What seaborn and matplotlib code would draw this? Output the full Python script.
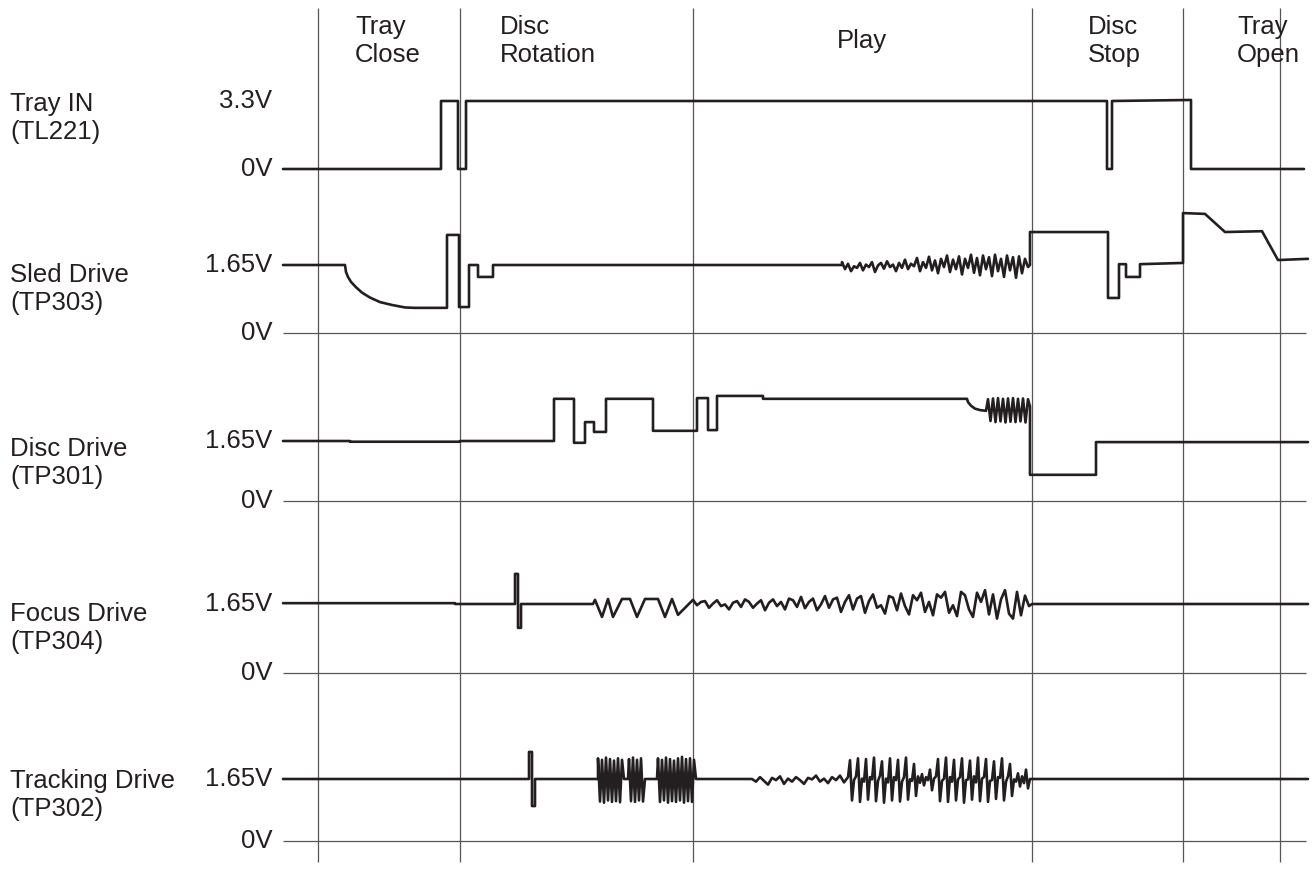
import matplotlib
matplotlib.use("Agg")
import matplotlib.pyplot as plt
import seaborn as sns
import pandas as pd

# ---------------- data (time in sweep units, values in volts) ----------------
phase_edges = [318, 460, 693, 1032, 1183, 1280]
phase_labels = ["Tray\nClose", "Disc\nRotation", "Play", "Disc\nStop", "Tray\nOpen"]

channel_names = ["Tray IN\n(TL221)", "Sled Drive\n(TP303)", "Disc Drive\n(TP301)",
                 "Focus Drive\n(TP304)", "Tracking Drive\n(TP302)"]
channel_ref_labels = ["3.3V", "1.65V", "1.65V", "1.65V", "1.65V"]
channel_ref_volts = [3.3, 1.65, 1.65, 1.65, 1.65]

# Tray IN
tray_t = [283, 441, 441, 458, 458, 466, 466, 1107, 1107, 1112, 1112, 1191, 1191, 1304]
tray_v = [0, 0, 3.3, 3.3, 0, 0, 3.3, 3.3, 0, 0, 3.3, 3.35, 0, 0]

# Sled Drive
sled_t_a = [283, 345, 346, 348, 351, 356, 362, 370, 380, 392, 405, 415, 447, 447, 459, 459,
            469, 469, 478, 478, 493, 493, 842]
sled_v_a = [1.65, 1.65, 1.48, 1.36, 1.24, 1.11, 0.98, 0.86, 0.75, 0.68, 0.62, 0.61, 0.61, 2.38, 2.38, 0.63,
            0.63, 1.65, 1.65, 1.36, 1.36, 1.65, 1.65]
sled_noise_t = [842, 845, 848, 851, 854, 857, 860, 863, 866, 869,
                872, 875, 878, 881, 884, 887, 890, 893, 896, 899,
                902, 905, 908, 911, 914, 917, 920, 923, 926, 929,
                932, 935, 938, 941, 944, 947, 950, 953, 956, 959,
                962, 965, 968, 971, 974, 977, 980, 983, 986, 989,
                992, 995, 998, 1001, 1004, 1007, 1010, 1013, 1016, 1019,
                1022, 1025, 1028]
sled_noise_v = [1.72, 1.55, 1.68, 1.50, 1.62, 1.58, 1.70, 1.52, 1.66, 1.60,
                1.72, 1.48, 1.64, 1.70, 1.56, 1.74, 1.60, 1.66, 1.50, 1.70,
                1.58, 1.78, 1.55, 1.68, 1.62, 1.82, 1.50, 1.72, 1.58, 1.85,
                1.52, 1.76, 1.45, 1.80, 1.60, 1.88, 1.48, 1.78, 1.55, 1.86,
                1.42, 1.80, 1.58, 1.90, 1.46, 1.82, 1.40, 1.88, 1.55, 1.84,
                1.38, 1.90, 1.50, 1.80, 1.36, 1.88, 1.52, 1.84, 1.34, 1.86,
                1.45, 1.80, 1.60]
sled_t_b = [1030, 1030, 1108, 1108, 1119, 1119, 1126, 1126, 1140, 1140, 1183, 1183,
            1205, 1225, 1262, 1278, 1308]
sled_v_b = [1.65, 2.45, 2.45, 0.85, 0.85, 1.67, 1.67, 1.36, 1.36, 1.67, 1.70, 2.91,
            2.89, 2.45, 2.47, 1.77, 1.80]

# Disc Drive
disc_t_a = [283, 350, 350, 460, 460, 554, 554, 574, 574, 585, 585, 594, 594, 606, 606,
            653, 653, 697, 697, 708, 708, 717, 717, 763, 763, 967, 968, 971, 975, 980, 986]
disc_v_a = [1.65, 1.65, 1.63, 1.63, 1.65, 1.65, 2.81, 2.81, 1.60, 1.60, 2.17, 2.17, 1.90, 1.90, 2.81,
            2.81, 1.93, 1.93, 2.83, 2.83, 1.95, 1.95, 2.89, 2.89, 2.81, 2.81, 2.72, 2.62, 2.54, 2.50, 2.48]
disc_spring_t = [988, 990.5, 993, 995.5, 998, 1000.5, 1003, 1005.5, 1008, 1010.5,
                 1013, 1015.5, 1018, 1020.5, 1023, 1025.5, 1028, 1030]
disc_spring_v = [2.80, 2.20, 2.82, 2.17, 2.83, 2.19, 2.81, 2.16, 2.82, 2.18,
                 2.83, 2.17, 2.81, 2.19, 2.82, 2.16, 2.80, 2.60]
disc_t_b = [1030, 1096, 1096, 1308]
disc_v_b = [0.72, 0.72, 1.62, 1.62]

# Focus Drive
focus_t_a = [283, 455, 455, 515, 515, 518, 518, 521, 521, 593, 595, 602, 608, 613, 622,
             630, 637, 645, 658, 665, 672, 678]
focus_v_a = [1.67, 1.67, 1.65, 1.65, 2.37, 2.37, 1.08, 1.08, 1.65, 1.65, 1.75, 1.34, 1.77, 1.34, 1.77,
             1.77, 1.34, 1.77, 1.77, 1.34, 1.77, 1.39]
focus_noise_t = [693, 697, 701, 705, 709, 713, 717, 721, 725, 729,
                 733, 737, 741, 745, 749, 753, 757, 761, 765, 769,
                 773, 777, 781, 785, 789, 793, 797, 801, 805, 809,
                 813, 817, 821, 825, 829, 833, 837, 841, 845, 849,
                 853, 857, 861, 865, 869, 873, 877, 881, 885, 889,
                 893, 897, 901, 905, 909, 913, 917, 921, 925, 929,
                 933, 937, 941, 945, 949, 953, 957, 961, 965, 969,
                 973, 977, 981, 985, 989, 993, 997, 1001, 1005, 1009,
                 1013, 1017, 1021, 1025, 1029]
focus_noise_v = [1.75, 1.62, 1.70, 1.72, 1.56, 1.66, 1.74, 1.60, 1.64, 1.52,
                 1.68, 1.72, 1.58, 1.76, 1.70, 1.56, 1.66, 1.74, 1.50, 1.68,
                 1.76, 1.60, 1.70, 1.52, 1.78, 1.74, 1.58, 1.82, 1.55, 1.70,
                 1.78, 1.50, 1.64, 1.84, 1.56, 1.76, 1.80, 1.46, 1.70, 1.86,
                 1.52, 1.78, 1.84, 1.44, 1.72, 1.88, 1.56, 1.62, 1.42, 1.84,
                 1.80, 1.50, 1.90, 1.60, 1.40, 1.86, 1.74, 1.92, 1.46, 1.70,
                 1.38, 1.88, 1.80, 1.94, 1.44, 1.62, 1.36, 1.94, 1.86, 1.52,
                 1.34, 1.92, 1.70, 1.98, 1.40, 1.88, 1.30, 1.76, 1.98, 1.42,
                 1.30, 1.94, 1.38, 1.85, 1.60]
focus_t_b = [1032, 1308]
focus_v_b = [1.65, 1.65]

# Tracking Drive
track_t_a = [283, 529, 529, 532, 532, 535, 535, 598]
track_v_a = [1.65, 1.65, 2.37, 2.37, 0.93, 0.93, 1.65, 1.65]
track_burst1_t = [598, 600, 602, 604, 606, 608, 610, 612, 614, 616, 618, 620, 622, 624]
track_burst1_v = [2.20, 1.05, 2.16, 1.02, 2.22, 1.08, 2.18, 1.04, 2.14, 1.06, 2.20, 1.03, 2.16, 1.65]
track_burst2_t = [628, 629, 631, 633, 635, 637, 639, 641, 643, 645]
track_burst2_v = [1.65, 2.18, 1.06, 2.22, 1.04, 2.16, 1.08, 2.20, 1.05, 1.65]
track_burst3_t = [657, 658, 660, 662, 664, 666, 668, 670, 672, 674, 676, 678, 680, 682, 684,
                  686, 688, 690, 692, 694, 696]
track_burst3_v = [1.65, 2.20, 1.04, 2.16, 1.08, 2.22, 1.02, 2.18, 1.06, 2.14, 1.04, 2.20, 1.08, 2.24, 1.02,
                  2.18, 1.06, 2.20, 1.04, 2.16, 1.65]
track_small_t = [752, 756, 760, 764, 768, 772, 776, 780, 784, 788,
                 792, 796, 800, 804, 808, 812, 816, 820, 824, 828,
                 832, 836, 840, 844]
track_small_v = [1.65, 1.58, 1.70, 1.60, 1.50, 1.68, 1.62, 1.72, 1.52, 1.66,
                 1.58, 1.70, 1.62, 1.52, 1.68, 1.64, 1.74, 1.58, 1.66, 1.54,
                 1.70, 1.62, 1.74, 1.56]
track_spike_t = [848, 850, 852, 854, 856, 858, 860, 862, 864, 866,
                 868, 870, 872, 874, 876, 878, 880, 882, 884, 886,
                 888, 890, 892, 894, 896, 898, 900, 902, 904, 906,
                 908, 910, 912, 914, 916, 918, 920, 922, 924, 926,
                 928, 930, 932, 934, 936, 938, 940, 942, 944, 946,
                 948, 950, 952, 954, 956, 958, 960, 962, 964, 966,
                 968, 970, 972, 974, 976, 978, 980, 982, 984, 986,
                 988, 990, 992, 994, 996, 998, 1000, 1002, 1004, 1006,
                 1008, 1010, 1012, 1014, 1016, 1018, 1020, 1022, 1024, 1026,
                 1028, 1030]
track_spike_v = [1.70, 2.15, 1.08, 1.62, 1.72, 2.20, 1.04, 1.66,
                 1.58, 2.18, 1.10, 1.70, 1.64, 2.22, 1.06, 1.60,
                 1.74, 2.12, 1.02, 1.66, 1.56, 2.20, 1.08, 1.70,
                 1.62, 2.16, 1.05, 1.58, 1.70, 2.22, 1.10, 1.64,
                 1.60, 2.05, 1.20, 1.72, 1.55, 1.78, 1.48, 1.70,
                 1.62, 1.90, 1.35, 1.66, 1.72, 2.18, 1.06, 1.60,
                 1.66, 2.22, 1.04, 1.70, 1.58, 2.16, 1.08, 1.64,
                 1.70, 2.20, 1.02, 1.62, 1.64, 2.14, 1.10, 1.72,
                 1.56, 2.22, 1.06, 1.66, 1.70, 2.18, 1.04, 1.60,
                 1.62, 2.12, 1.12, 1.70, 1.68, 2.20, 1.08, 1.58,
                 1.72, 2.05, 1.20, 1.64, 1.58, 1.80, 1.45, 1.72,
                 1.54, 1.90, 1.40, 1.65]
track_t_b = [1036, 1308]
track_v_b = [1.65, 1.65]

# ---------------- assemble signals ----------------
signals_t = [
    tray_t,
    sled_t_a + sled_noise_t + sled_t_b,
    disc_t_a + disc_spring_t + disc_t_b,
    focus_t_a + focus_noise_t + focus_t_b,
    track_t_a + track_burst1_t + track_burst2_t + track_burst3_t
    + track_small_t + track_spike_t + track_t_b,
]
signals_v = [
    tray_v,
    sled_v_a + sled_noise_v + sled_v_b,
    disc_v_a + disc_spring_v + disc_v_b,
    focus_v_a + focus_noise_v + focus_v_b,
    track_v_a + track_burst1_v + track_burst2_v + track_burst3_v
    + track_small_v + track_spike_v + track_v_b,
]

# ---------------- layout ----------------
W, H = 1312, 869
zero_px = [169, 333, 501, 673, 841]      # pixel row of 0 V for each channel
ref_px = [101, 265, 441, 604, 779]       # pixel row of reference voltage
label_center_px = [118, 289, 463, 628, 795]
phase_label_x = [355, 500, 862, 1088, 1237]
phase_label_ha = ["left", "left", "center", "left", "left"]

INK = "#231f20"
GRID = "#555555"
FS = 18.5

sns.set_theme(style="white")
plt.rcParams["font.family"] = ["Liberation Sans", "DejaVu Sans"]

fig = plt.figure(figsize=(W / 100, H / 100), dpi=100)
fig.patch.set_facecolor("white")

bg = fig.add_axes([0, 0, 1, 1])
bg.set_xlim(0, W)
bg.set_ylim(H, 0)
bg.axis("off")
bg.vlines(phase_edges, 8, 862, color=GRID, lw=0.9)
for lab, x, ha in zip(phase_labels, phase_label_x, phase_label_ha):
    bg.text(x, 41, lab, ha=ha, va="center", fontsize=FS, color=INK, linespacing=1.2)
for lab, y in zip(channel_names, label_center_px):
    bg.text(10, y, lab, ha="left", va="center", fontsize=FS, color=INK, linespacing=1.2)

for i in range(5):
    b, m, vr = zero_px[i], ref_px[i], channel_ref_volts[i]
    s = (b - m) / vr
    ax = fig.add_axes([0, 0, 1, 1])
    ax.patch.set_alpha(0)
    ax.set_xlim(0, W)
    ax.set_ylim((b - H) / s, b / s)
    ax.axis("off")
    if i > 0:
        ax.hlines(0, 283, 1306, color=GRID, lw=0.9)
    df = pd.DataFrame({"t": signals_t[i], "v": signals_v[i]})
    sns.lineplot(data=df, x="t", y="v", ax=ax, sort=False, estimator=None,
                 color=INK, lw=1.9)
    ax.text(272, vr, channel_ref_labels[i], ha="right", va="center", fontsize=FS, color=INK)
    ax.text(272, 0, "0V", ha="right", va="center", fontsize=FS, color=INK)
    ax.set_xlabel("")
    ax.set_ylabel("")

fig.savefig("out.png", dpi=100, facecolor="white")
